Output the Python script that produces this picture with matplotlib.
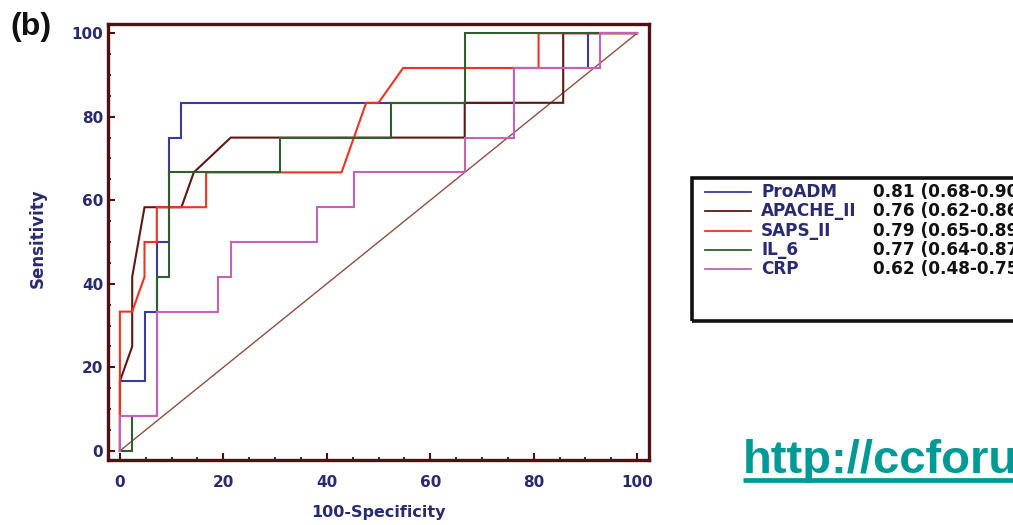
import matplotlib
matplotlib.use("Agg")
import matplotlib.pyplot as plt
from matplotlib.lines import Line2D
from matplotlib.patches import Rectangle
from matplotlib.ticker import MultipleLocator

plt.rcParams['font.family'] = ['DejaVu Sans']

# ---- data (percent) ----
names = ["ProADM", "APACHE_II", "SAPS_II", "IL_6", "CRP"]
auc_text = ["0.81 (0.68-0.90)", "0.76 (0.62-0.86)", "0.79 (0.65-0.89)",
            "0.77 (0.64-0.87)", "0.62 (0.48-0.75)"]

proadm_fpr = [0, 0, 4.76, 4.76, 7.14, 7.14, 9.52, 9.52, 11.90, 11.90, 76.19, 76.19, 90.48, 90.48, 100]
proadm_tpr = [0, 16.67, 16.67, 33.33, 33.33, 50, 50, 75, 75, 83.33, 83.33, 91.67, 91.67, 100, 100]

apache_fpr = [0, 0, 2.38, 2.38, 4.76, 11.90, 14.29, 21.43, 66.67, 66.67, 85.71, 85.71, 100]
apache_tpr = [0, 16.67, 25, 41.67, 58.33, 58.33, 66.67, 75, 75, 83.33, 83.33, 100, 100]

saps_fpr = [0, 0, 2.38, 4.76, 4.76, 7.14, 7.14, 16.67, 16.67, 42.86, 47.62, 50.00, 54.76, 80.95, 80.95, 100]
saps_tpr = [0, 33.33, 33.33, 41.67, 50, 50, 58.33, 58.33, 66.67, 66.67, 83.33, 83.33, 91.67, 91.67, 100, 100]

il6_fpr = [0, 2.38, 2.38, 7.14, 7.14, 9.52, 9.52, 30.95, 30.95, 52.38, 52.38, 66.67, 66.67, 100]
il6_tpr = [0, 0, 8.33, 8.33, 41.67, 41.67, 66.67, 66.67, 75, 75, 83.33, 83.33, 100, 100]

crp_fpr = [0, 0, 7.14, 7.14, 19.05, 19.05, 21.43, 21.43, 38.10, 38.10, 45.24, 45.24, 66.67, 66.67, 76.19, 76.19, 92.86, 92.86, 100]
crp_tpr = [0, 8.33, 8.33, 33.33, 33.33, 41.67, 41.67, 50, 50, 58.33, 58.33, 66.67, 66.67, 75, 75, 91.67, 91.67, 100, 100]

curves = [(proadm_fpr, proadm_tpr), (apache_fpr, apache_tpr), (saps_fpr, saps_tpr),
          (il6_fpr, il6_tpr), (crp_fpr, crp_tpr)]
colors = ["#3b3b9c", "#5a1a12", "#ee3324", "#2f5e30", "#c462b8"]

ticks = [0, 20, 40, 60, 80, 100]

# ---- figure ----
W, H = 1013, 525
fig = plt.figure(figsize=(W / 100, H / 100), dpi=100)
fig.patch.set_facecolor("white")

def fx(px):
    return px / W

def fy(py):
    return 1 - py / H

ax = fig.add_axes([fx(108), fy(460), fx(649) - fx(108), fy(24) - fy(460)])
ax.set_xlim(-2.3, 102.3)
ax.set_ylim(-2.2, 102.2)

spine_col = "#4e1212"
navy = "#2a2a6e"

# reference diagonal
ax.plot([0, 100], [0, 100], color="#8e5040", lw=1.0, zorder=1)
for (xs, ys), c in zip(curves, colors):
    ax.plot(xs, ys, color=c, lw=1.5, zorder=2, solid_joinstyle="miter")

for s in ax.spines.values():
    s.set_color(spine_col)
    s.set_linewidth(2.4)

ax.set_xticks(ticks)
ax.set_yticks(ticks)
ax.xaxis.set_minor_locator(MultipleLocator(5))
ax.yaxis.set_minor_locator(MultipleLocator(5))
ax.tick_params(which="major", direction="in", length=5, width=1.5, color=spine_col,
               labelsize=11, labelcolor=navy)
ax.tick_params(which="minor", direction="in", length=2.5, width=1.3, color=spine_col)
ax.tick_params(axis="x", which="major", pad=11)
ax.tick_params(axis="y", which="major", pad=3.5)
for lab in ax.get_xticklabels() + ax.get_yticklabels():
    lab.set_fontweight("bold")

fig.text(fx(38), fy(238), "Sensitivity", rotation=90, ha="center", va="center",
         fontsize=12, fontweight="bold", color=navy)
fig.text(fx(378), fy(513), "100-Specificity", ha="center", va="center",
         fontsize=11.5, fontweight="bold", color=navy)

fig.text(fx(10), fy(27), "(b)", ha="left", va="center", fontsize=23,
         fontweight="bold", color="#111111", family=["Liberation Sans"])

# ---- legend box (extends beyond right edge as in reference) ----
box = Rectangle((fx(692), fy(321)), fx(1060) - fx(692), fy(178) - fy(321),
                transform=fig.transFigure, fill=False, edgecolor="#111111",
                linewidth=2.6, clip_on=False)
fig.add_artist(box)
row_y = [191.7, 211.2, 230.7, 250.0, 268.5]
for name, val, c, ry in zip(names, auc_text, colors, row_y):
    fig.add_artist(Line2D([fx(705), fx(751)], [fy(ry), fy(ry)], color=c, lw=1.3,
                          transform=fig.transFigure))
    fig.text(fx(761), fy(ry), name, ha="left", va="center", fontsize=12.2,
             fontweight="bold", color=navy)
    fig.text(fx(873), fy(ry), val, ha="left", va="center", fontsize=12.2,
             fontweight="bold", color="#111111")

# ---- URL ----
teal = "#009a96"
fig.text(fx(743), fy(473), "http://ccforum.com", ha="left", va="baseline",
         fontsize=34, fontweight="bold", color=teal, family=["Liberation Sans"])
fig.add_artist(Line2D([fx(743), fx(1013)], [fy(479.5), fy(479.5)], color=teal,
                      lw=3.4, transform=fig.transFigure, solid_capstyle="butt"))

fig.savefig("out.png", dpi=100)
